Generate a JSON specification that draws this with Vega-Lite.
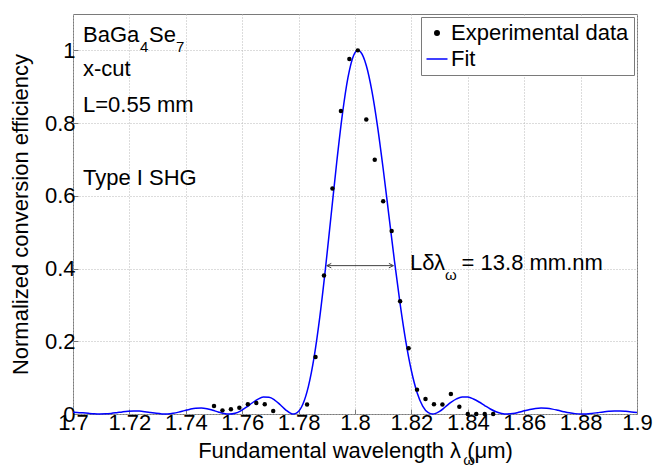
{
  "$schema": "https://vega.github.io/schema/vega-lite/v6.json",
  "width": 564,
  "height": 400,
  "autosize": {"type": "none"},
  "padding": {"left": 73, "top": 14, "right": 30, "bottom": 52},
  "background": "white",
  "config": {
    "font": "Liberation Sans",
    "view": {"stroke": "#7a7a7a", "strokeWidth": 1},
    "axis": {
      "labelFontSize": 22, "titleFontSize": 22, "titleFontWeight": "normal",
      "labelColor": "black", "titleColor": "black", "domain": false,
      "tickColor": "#7a7a7a", "tickSize": -5,
      "gridColor": "#b8b8b8", "gridDash": [1, 2], "gridWidth": 1
    },
    "legend": {
      "orient": "top-right", "offset": 3, "labelFontSize": 22, "labelColor": "black",
      "strokeColor": "#7a7a7a", "fillColor": "white", "padding": 5, "rowPadding": 4,
      "labelOffset": 3, "symbolStrokeWidth": 1.5, "labelLimit": 400
    }
  },
  "datasets": {
    "fit": [
      {"lam": 1.7, "eff": 0.0049}, {"lam": 1.7015, "eff": 0.00441}, {"lam": 1.7035, "eff": 0.00323}, {"lam": 1.7055, "eff": 0.0018}, {"lam": 1.7075, "eff": 0.00059}, {"lam": 1.7095, "eff": 0.00001},
      {"lam": 1.7115, "eff": 0.00035}, {"lam": 1.7135, "eff": 0.00164}, {"lam": 1.7155, "eff": 0.0036}, {"lam": 1.7175, "eff": 0.00575}, {"lam": 1.7195, "eff": 0.0075},
      {"lam": 1.7215, "eff": 0.00832}, {"lam": 1.7235, "eff": 0.00792}, {"lam": 1.7255, "eff": 0.00635}, {"lam": 1.7275, "eff": 0.00407}, {"lam": 1.7295, "eff": 0.00179},
      {"lam": 1.7315, "eff": 0.00025}, {"lam": 1.7326, "eff": 0.0}, {"lam": 1.7335, "eff": 0.00018}, {"lam": 1.7355, "eff": 0.00187}, {"lam": 1.7375, "eff": 0.0051},
      {"lam": 1.7395, "eff": 0.00923}, {"lam": 1.7415, "eff": 0.01317}, {"lam": 1.7435, "eff": 0.01585}, {"lam": 1.7455, "eff": 0.01638}, {"lam": 1.7475, "eff": 0.01444},
      {"lam": 1.7495, "eff": 0.01048}, {"lam": 1.7515, "eff": 0.00564}, {"lam": 1.7535, "eff": 0.00156}, {"lam": 1.7555, "eff": 0.0}, {"lam": 1.7575, "eff": 0.00227},
      {"lam": 1.7595, "eff": 0.00876}, {"lam": 1.7615, "eff": 0.01874}, {"lam": 1.7635, "eff": 0.03023}, {"lam": 1.7655, "eff": 0.04045}, {"lam": 1.7675, "eff": 0.0465},
      {"lam": 1.7695, "eff": 0.04605}, {"lam": 1.7715, "eff": 0.03847}, {"lam": 1.7735, "eff": 0.0253}, {"lam": 1.7755, "eff": 0.01072}, {"lam": 1.7775, "eff": 0.00088},
      {"lam": 1.7782, "eff": 0.0}, {"lam": 1.7795, "eff": 0.00364}, {"lam": 1.7815, "eff": 0.0267}, {"lam": 1.7835, "eff": 0.07665}, {"lam": 1.7855, "eff": 0.1563},
      {"lam": 1.7875, "eff": 0.2656}, {"lam": 1.7895, "eff": 0.3982}, {"lam": 1.7915, "eff": 0.5445}, {"lam": 1.7935, "eff": 0.691}, {"lam": 1.7955, "eff": 0.8226},
      {"lam": 1.7975, "eff": 0.9248}, {"lam": 1.7995, "eff": 0.9858}, {"lam": 1.801, "eff": 1.0},
      {"lam": 1.802, "eff": 0.9953}, {"lam": 1.804, "eff": 0.9584}, {"lam": 1.806, "eff": 0.8879}, {"lam": 1.808, "eff": 0.7905}, {"lam": 1.81, "eff": 0.6737},
      {"lam": 1.812, "eff": 0.5471}, {"lam": 1.814, "eff": 0.4206}, {"lam": 1.816, "eff": 0.3027}, {"lam": 1.818, "eff": 0.2006}, {"lam": 1.82, "eff": 0.119},
      {"lam": 1.822, "eff": 0.0593}, {"lam": 1.824, "eff": 0.0219}, {"lam": 1.826, "eff": 0.00356}, {"lam": 1.8275, "eff": 0.0}, {"lam": 1.828, "eff": 0.00034},
      {"lam": 1.83, "eff": 0.00722}, {"lam": 1.832, "eff": 0.01915}, {"lam": 1.834, "eff": 0.03171}, {"lam": 1.836, "eff": 0.04153}, {"lam": 1.838, "eff": 0.04666},
      {"lam": 1.84, "eff": 0.04641}, {"lam": 1.842, "eff": 0.0414}, {"lam": 1.844, "eff": 0.03304}, {"lam": 1.846, "eff": 0.02321}, {"lam": 1.848, "eff": 0.01373},
      {"lam": 1.85, "eff": 0.00618}, {"lam": 1.852, "eff": 0.00151}, {"lam": 1.854, "eff": 0.0}, {"lam": 1.856, "eff": 0.0013}, {"lam": 1.858, "eff": 0.00457},
      {"lam": 1.86, "eff": 0.00871}, {"lam": 1.862, "eff": 0.01263}, {"lam": 1.864, "eff": 0.01539}, {"lam": 1.866, "eff": 0.01648}, {"lam": 1.868, "eff": 0.01572},
      {"lam": 1.87, "eff": 0.01341}, {"lam": 1.872, "eff": 0.01009}, {"lam": 1.874, "eff": 0.00648}, {"lam": 1.876, "eff": 0.00327}, {"lam": 1.878, "eff": 0.00102},
      {"lam": 1.88, "eff": 0.00004}, {"lam": 1.882, "eff": 0.00034}, {"lam": 1.884, "eff": 0.00168}, {"lam": 1.886, "eff": 0.00362}, {"lam": 1.888, "eff": 0.00568},
      {"lam": 1.89, "eff": 0.00733}, {"lam": 1.892, "eff": 0.00823}, {"lam": 1.894, "eff": 0.00822}, {"lam": 1.896, "eff": 0.00733}, {"lam": 1.898, "eff": 0.0058},
      {"lam": 1.9, "eff": 0.00395}
    ],
    "exp": [
      {"lam": 1.75, "eff": 0.022}, {"lam": 1.753, "eff": 0.01}, {"lam": 1.756, "eff": 0.013}, {"lam": 1.759, "eff": 0.017}, {"lam": 1.762, "eff": 0.027},
      {"lam": 1.765, "eff": 0.03}, {"lam": 1.768, "eff": 0.027}, {"lam": 1.771, "eff": 0.008}, {"lam": 1.783, "eff": 0.026}, {"lam": 1.786, "eff": 0.157},
      {"lam": 1.789, "eff": 0.381}, {"lam": 1.792, "eff": 0.62}, {"lam": 1.795, "eff": 0.833}, {"lam": 1.798, "eff": 0.976}, {"lam": 1.801, "eff": 1.0},
      {"lam": 1.804, "eff": 0.81}, {"lam": 1.807, "eff": 0.699}, {"lam": 1.81, "eff": 0.585}, {"lam": 1.813, "eff": 0.503}, {"lam": 1.816, "eff": 0.31},
      {"lam": 1.819, "eff": 0.181}, {"lam": 1.822, "eff": 0.067}, {"lam": 1.825, "eff": 0.041}, {"lam": 1.828, "eff": 0.027}, {"lam": 1.831, "eff": 0.026},
      {"lam": 1.834, "eff": 0.055}, {"lam": 1.837, "eff": 0.02}, {"lam": 1.84, "eff": 0.0}, {"lam": 1.843, "eff": 0.0}, {"lam": 1.846, "eff": 0.0}, {"lam": 1.849, "eff": 0.0}
    ],
    "labels": [
      {"lam": 1.70355, "eff": 1.0228, "txt": "BaGa"},
      {"lam": 1.72695, "eff": 1.0228, "txt": "Se"},
      {"lam": 1.70355, "eff": 0.9286, "txt": "x-cut"},
      {"lam": 1.70355, "eff": 0.8305, "txt": "L=0.55 mm"},
      {"lam": 1.70355, "eff": 0.6291, "txt": "Type I SHG"},
      {"lam": 1.8195, "eff": 0.3956, "txt": "Lδλ"},
      {"lam": 1.8378, "eff": 0.3956, "txt": "= 13.8 mm.nm"}
    ],
    "subs": [
      {"lam": 1.72376, "eff": 0.9954, "txt": "4"},
      {"lam": 1.73652, "eff": 0.9954, "txt": "7"},
      {"lam": 1.8319, "eff": 0.368, "txt": "ω"},
      {"lam": 1.8384, "eff": -0.141, "txt": "ω"}
    ],
    "arrow": [{"lam": 1.79, "lam2": 1.8136, "eff": 0.408}]
  },
  "encoding": {
    "x": {
      "field": "lam", "type": "quantitative",
      "scale": {"domain": [1.7, 1.9], "nice": false, "zero": false},
      "axis": {
        "values": [1.7, 1.72, 1.74, 1.76, 1.78, 1.8, 1.82, 1.84, 1.86, 1.88, 1.9],
        "format": ".2~f", "labelFlush": false, "labelPadding": 3, "titlePadding": 7,
        "title": "Fundamental wavelength λ (μm)", "labelOverlap": false
      }
    },
    "y": {
      "field": "eff", "type": "quantitative",
      "scale": {"domain": [0, 1.1], "nice": false, "zero": false},
      "axis": {
        "values": [0, 0.2, 0.4, 0.6, 0.8, 1],
        "format": "~g", "labelPadding": 3, "titlePadding": 12,
        "title": "Normalized conversion efficiency"
      }
    }
  },
  "layer": [
    {
      "data": {"name": "fit"},
      "mark": {"type": "line", "interpolate": "monotone", "strokeWidth": 1.5},
      "encoding": {
        "color": {
          "datum": "Fit", "type": "nominal",
          "scale": {"domain": ["Experimental data", "Fit"], "range": ["black", "#0000ff"]},
          "legend": {
            "title": null,
            "encode": {
              "symbols": {
                "update": {
                  "shape": {"signal": "datum.value === 'Fit' ? 'stroke' : 'circle'"},
                  "size": {"signal": "datum.value === 'Fit' ? 441 : 20"}
                }
              }
            }
          }
        }
      }
    },
    {
      "data": {"name": "exp"},
      "mark": {"type": "point", "filled": true, "size": 20, "opacity": 1},
      "encoding": {
        "color": {"datum": "Experimental data", "type": "nominal"}
      }
    },
    {
      "data": {"name": "arrow"},
      "mark": {"type": "rule", "color": "#404040", "strokeWidth": 1},
      "encoding": {"x2": {"field": "lam2"}}
    },
    {
      "data": {"name": "arrow"},
      "mark": {"type": "point", "shape": "M1,-0.5L0,0L1,0.5", "filled": false, "stroke": "#404040", "strokeWidth": 1, "size": 80, "opacity": 1},
      "encoding": {}
    },
    {
      "data": {"name": "arrow"},
      "mark": {"type": "point", "shape": "M-1,-0.5L0,0L-1,0.5", "filled": false, "stroke": "#404040", "strokeWidth": 1, "size": 80, "opacity": 1},
      "encoding": {"x": {"field": "lam2", "type": "quantitative"}}
    },
    {
      "data": {"name": "labels"},
      "mark": {"type": "text", "align": "left", "baseline": "alphabetic", "fontSize": 22, "color": "black"},
      "encoding": {"text": {"field": "txt"}}
    },
    {
      "data": {"name": "subs"},
      "mark": {"type": "text", "align": "left", "baseline": "alphabetic", "fontSize": 15, "color": "black"},
      "encoding": {"text": {"field": "txt"}}
    }
  ]
}
